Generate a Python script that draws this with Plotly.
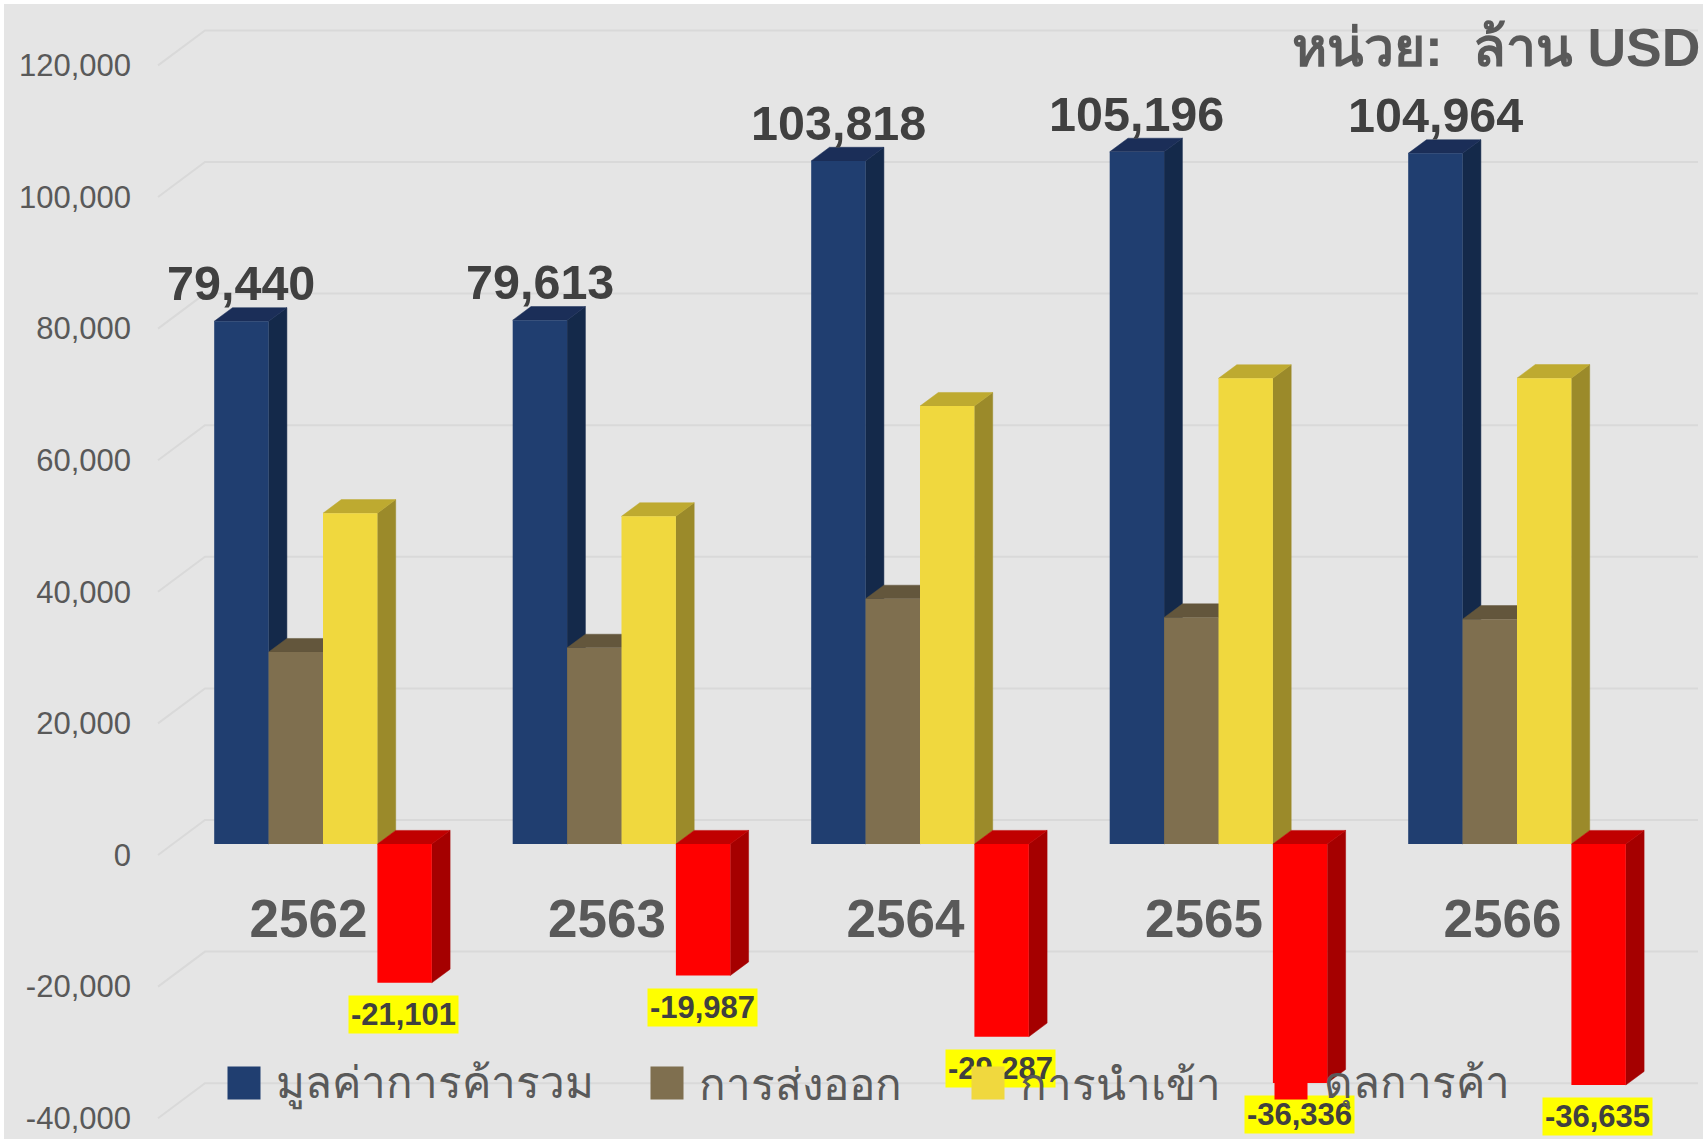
import plotly.graph_objects as go

W, H = 1703, 1139
years = [2562, 2563, 2564, 2565, 2566]
series_names = ["มูลค่าการค้ารวม", "การส่งออก", "การนำเข้า", "ดุลการค้า"]
total_trade = [79440, 79613, 103818, 105196, 104964]
exports = [29170, 29813, 37266, 34430, 34165]
imports = [50271, 49800, 66553, 70766, 70800]
balance = [-21101, -19987, -29287, -36336, -36635]
y_ticks = [-40000, -20000, 0, 20000, 40000, 60000, 80000, 100000, 120000]
y_tick_text = ["-40,000", "-20,000", "0", "20,000", "40,000", "60,000", "80,000", "100,000", "120,000"]
unit_label = "<b>หน่วย:  ล้าน USD</b>"

front_colors = ["#203E70", "#7F6F4F", "#F0D83E", "#FF0000"]
top_colors = ["#1B2E58", "#63563C", "#BEAA30", "#C00000"]
side_colors = ["#14294A", "#5A4E36", "#9B8A2A", "#A50000"]
legend_swatch_x = [244, 667, 988, 1291]
legend_text_x = [274, 697, 1018, 1322]
legend_y = 1084
FONT = "Liberation Sans, Arial, sans-serif"
GREY = "#595959"
DARK = "#404040"

# pixel geometry of the pseudo-3D projection
DOMAIN_LEFT = 132
STEP = 298.5
PX_PER_UNIT = 0.00658
BAR_ZERO = 844
FRONT_ZERO = 855
BACK_ZERO = 820
DEPTH_X = 18.3 / STEP
DEPTH_Y = 13.6 / PX_PER_UNIT
BARGAP = 0.271
BAR_W = (1 - BARGAP) / 4


def xrange(center_px):
    return [years[0] + (DOMAIN_LEFT - center_px) / STEP, years[0] + (W - center_px) / STEP]


def yrange(zero_px):
    return [(zero_px - H) / PX_PER_UNIT, zero_px / PX_PER_UNIT]


fig = go.Figure()

# wall gridlines: diagonal from the front plane, then along the back wall
fx0 = years[0] + (158 - 323) / STEP
fx1 = years[0] + (205 - 323) / STEP
fx2 = years[0] + (1698 - 323) / STEP
gx, gy = [], []
for t in y_ticks:
    gx += [fx0, fx1, fx2, None]
    gy += [t + (BAR_ZERO - FRONT_ZERO) / PX_PER_UNIT, t + (BAR_ZERO - BACK_ZERO) / PX_PER_UNIT,
           t + (BAR_ZERO - BACK_ZERO) / PX_PER_UNIT, None]
fig.add_trace(go.Scatter(x=gx, y=gy, mode="lines", line=dict(color="#D9D9D9", width=2),
                         xaxis="x2", yaxis="y2", hoverinfo="skip", showlegend=False))

all_values = [total_trade, exports, imports, balance]

# depth faces
for k, vals in enumerate(all_values):
    sx, sy, tx, ty = [], [], [], []
    for yr, v in zip(years, vals):
        left = yr + (k - 2) * BAR_W
        right = left + BAR_W
        hi, lo = max(v, 0), min(v, 0)
        sx += [right, right + DEPTH_X, right + DEPTH_X, right, right, None]
        sy += [lo, lo + DEPTH_Y, hi + DEPTH_Y, hi, lo, None]
        tx += [left, left + DEPTH_X, right + DEPTH_X, right, left, None]
        ty += [hi, hi + DEPTH_Y, hi + DEPTH_Y, hi, hi, None]
    for xs, ys, c in ((sx, sy, side_colors[k]), (tx, ty, top_colors[k])):
        fig.add_trace(go.Scatter(x=xs, y=ys, mode="lines", fill="toself", fillcolor=c,
                                 line=dict(width=0.5, color=c), xaxis="x2", yaxis="y2",
                                 hoverinfo="skip", showlegend=False))

# front faces
for k, vals in enumerate(all_values):
    fig.add_trace(go.Bar(x=years, y=vals, name=series_names[k], marker=dict(color=front_colors[k], line=dict(width=0)),
                         xaxis="x3", yaxis="y3", showlegend=False))

annotations = []
# totals above the first series
for yr, v in zip(years, total_trade):
    annotations.append(dict(x=yr - 1.5 * BAR_W, y=v, xref="x3", yref="y3", yshift=38,
                            text=f"<b>{v:,}</b>", showarrow=False, xanchor="center", yanchor="middle",
                            font=dict(family=FONT, size=48.5, color=DARK)))
# balance labels on yellow
for yr, v in zip(years, balance):
    annotations.append(dict(x=yr + 1.5 * BAR_W, y=v, xref="x3", yref="y3", yshift=-31.5, xshift=-1,
                            text=f"<b>{v:,}</b>", showarrow=False, xanchor="center", yanchor="middle",
                            bgcolor="#FFFF00", width=109, height=37, borderpad=0, align="center",
                            font=dict(family=FONT, size=31, color=DARK)))
# unit label
annotations.append(dict(x=1702 / W, y=1 - 48 / H, xref="paper", yref="paper", text=unit_label, showarrow=False,
                        xanchor="right", yanchor="middle", font=dict(family=FONT, size=53.5, color=GREY)))
# legend key drawn on top of the labels
for k, name in enumerate(series_names):
    annotations.append(dict(x=legend_swatch_x[k] / W, y=1 - 1083 / H, xref="paper", yref="paper", text="\u00a0",
                            showarrow=False, xanchor="center", yanchor="middle", width=32, height=32, borderpad=0,
                            bgcolor=front_colors[k], font=dict(size=8, color=front_colors[k])))
    annotations.append(dict(x=legend_text_x[k] / W, y=1 - legend_y / H, xref="paper", yref="paper", text=name,
                            showarrow=False, xanchor="left", yanchor="middle",
                            font=dict(family=FONT, size=44, color=GREY)))

dom = [DOMAIN_LEFT / W, 1]
fig.update_layout(
    width=W, height=H, margin=dict(l=0, r=0, t=0, b=0, pad=0), showlegend=False,
    paper_bgcolor="#FFFFFF", plot_bgcolor="rgba(0,0,0,0)", barmode="group", bargap=BARGAP, bargroupgap=0,
    annotations=annotations,
    shapes=[dict(type="rect", xref="paper", yref="paper", x0=4 / W, x1=1, y0=0, y1=1 - 4 / H,
                 fillcolor="#E5E5E5", line=dict(width=0), layer="below")],
    xaxis=dict(domain=dom, range=xrange(308.5), tickmode="array", tickvals=years, ticktext=[str(y) for y in years],
               anchor="free", position=1 - 882.5 / H, showgrid=False, zeroline=False, showline=False, ticks="",
               tickfont=dict(family=FONT, size=53, color=GREY, weight="bold")),
    yaxis=dict(domain=[0, 1], range=yrange(FRONT_ZERO), tickmode="array", tickvals=y_ticks, ticktext=y_tick_text,
               showgrid=False, zeroline=False, showline=False, ticks="",
               tickfont=dict(family=FONT, size=31, color=GREY)),
    xaxis2=dict(domain=dom, range=xrange(323), anchor="y2", overlaying="x", visible=False),
    yaxis2=dict(domain=[0, 1], range=yrange(BAR_ZERO), anchor="x2", overlaying="y", visible=False),
    xaxis3=dict(domain=dom, range=xrange(323), anchor="y3", overlaying="x", visible=False),
    yaxis3=dict(domain=[0, 1], range=yrange(BAR_ZERO), anchor="x3", overlaying="y", visible=False),
)
# an invisible trace keeps the labelled front-plane axes alive
fig.add_trace(go.Scatter(x=years, y=[0] * 5, mode="markers", marker=dict(opacity=0), xaxis="x", yaxis="y",
                         hoverinfo="skip", showlegend=False))

fig.write_html("out.html", config=dict(displayModeBar=False),
               post_script="document.body.style.margin='0';document.body.style.overflow='hidden';")
